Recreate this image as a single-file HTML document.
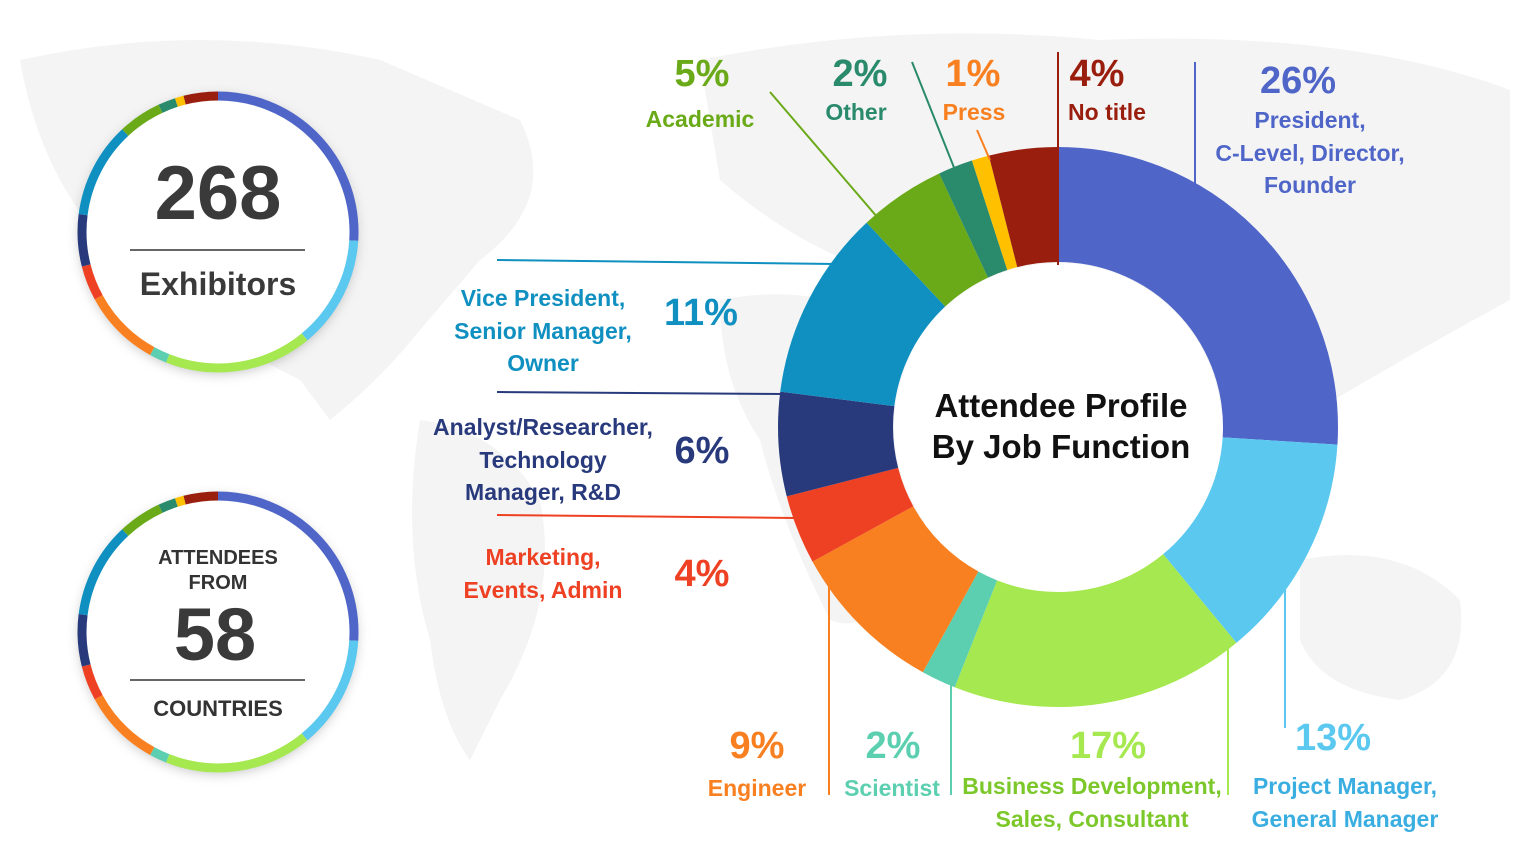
<!DOCTYPE html>
<html><head><meta charset="utf-8"><style>
html,body{margin:0;padding:0;background:#fff;}
svg{display:block;font-family:"Liberation Sans",sans-serif;font-weight:bold;}
</style></head><body>
<svg width="1515" height="844" viewBox="0 0 1515 844" xmlns="http://www.w3.org/2000/svg">
<defs>
<filter id="sh" x="-20%" y="-20%" width="140%" height="140%"><feDropShadow dx="0" dy="3" stdDeviation="6" flood-color="#000" flood-opacity="0.25"/></filter>
</defs>
<rect width="1515" height="844" fill="#fff"/>
<g fill="#f4f4f4">
<path d="M20 60 Q200 20 380 60 L520 120 Q560 200 480 260 L420 330 Q380 380 330 420 L300 380 Q200 330 120 260 Q40 180 20 60Z"/>
<path d="M420 420 Q500 430 540 500 Q560 600 500 700 L470 760 Q440 720 430 640 Q400 540 420 420Z"/>
<path d="M700 60 Q900 20 1100 40 Q1350 30 1510 90 L1510 300 Q1400 360 1300 420 Q1250 460 1230 420 Q1150 380 1080 330 Q980 300 900 280 Q800 250 720 180 Z"/>
<path d="M720 300 Q820 280 900 330 Q950 430 920 540 Q880 640 830 620 Q780 520 760 440 Q720 380 720 300Z"/>
<path d="M1300 560 Q1400 540 1460 600 Q1470 680 1400 700 Q1320 690 1300 640Z"/>
</g>
<g transform="translate(1058,427) rotate(-90)" fill="none" stroke-width="115">
<circle r="222.5" stroke="#4F66C8" stroke-dasharray="363.5 1398" stroke-dashoffset="0"/>
<circle r="222.5" stroke="#5BC8F0" stroke-dasharray="181.7 1398" stroke-dashoffset="-363.5"/>
<circle r="222.5" stroke="#A6E84F" stroke-dasharray="237.7 1398" stroke-dashoffset="-545.2"/>
<circle r="222.5" stroke="#5BCFB0" stroke-dasharray="28 1398" stroke-dashoffset="-782.9"/>
<circle r="222.5" stroke="#F98020" stroke-dasharray="125.8 1398" stroke-dashoffset="-810.9"/>
<circle r="222.5" stroke="#EE4022" stroke-dasharray="55.9 1398" stroke-dashoffset="-936.7"/>
<circle r="222.5" stroke="#283A7C" stroke-dasharray="83.9 1398" stroke-dashoffset="-992.6"/>
<circle r="222.5" stroke="#1090C0" stroke-dasharray="153.8 1398" stroke-dashoffset="-1076.5"/>
<circle r="222.5" stroke="#6AAA18" stroke-dasharray="69.9 1398" stroke-dashoffset="-1230.3"/>
<circle r="222.5" stroke="#2A8A6C" stroke-dasharray="28 1398" stroke-dashoffset="-1300.2"/>
<circle r="222.5" stroke="#FFC000" stroke-dasharray="14 1398" stroke-dashoffset="-1328.2"/>
<circle r="222.5" stroke="#9A1E0E" stroke-dasharray="56 1398" stroke-dashoffset="-1342.2"/>
</g>
<circle cx="1058" cy="427" r="164" fill="#fff"/>
<text x="1061" y="417" text-anchor="middle" font-size="33" fill="#111">Attendee Profile</text>
<text x="1061" y="458" text-anchor="middle" font-size="33" fill="#111">By Job Function</text>

<g stroke-width="2" fill="none">
<line x1="1195" y1="62" x2="1195" y2="185" stroke="#4F66C8"/>
<line x1="1058" y1="52" x2="1058" y2="265" stroke="#9A1E0E"/>
<line x1="977" y1="130" x2="990" y2="160" stroke="#F98020"/>
<line x1="912" y1="62" x2="955" y2="170" stroke="#2A8A6C"/>
<line x1="770" y1="92" x2="878" y2="218" stroke="#6AAA18"/>
<line x1="497" y1="260" x2="835" y2="264" stroke="#1090C0"/>
<line x1="497" y1="392" x2="785" y2="394" stroke="#283A7C"/>
<line x1="497" y1="515" x2="795" y2="518" stroke="#EE4022"/>
<line x1="829" y1="585" x2="829" y2="795" stroke="#F98020"/>
<line x1="951" y1="660" x2="951" y2="795" stroke="#5BCFB0"/>
<line x1="1228" y1="645" x2="1228" y2="795" stroke="#A6E84F"/>
<line x1="1285" y1="590" x2="1285" y2="728" stroke="#5BC8F0"/>
</g>

<g text-anchor="middle">
<text x="1298" y="93" font-size="38" fill="#4F66C8">26%</text>
<text x="1310" y="128" font-size="23" fill="#4F66C8">President,</text>
<text x="1310" y="161" font-size="23" fill="#4F66C8">C-Level, Director,</text>
<text x="1310" y="193" font-size="23" fill="#4F66C8">Founder</text>
<text x="1097" y="86" font-size="38" fill="#9A1E0E">4%</text>
<text x="1107" y="120" font-size="23" fill="#9A1E0E">No title</text>
<text x="973" y="86" font-size="38" fill="#F98020">1%</text>
<text x="974" y="120" font-size="23" fill="#F98020">Press</text>
<text x="860" y="86" font-size="38" fill="#2A8A6C">2%</text>
<text x="856" y="120" font-size="23" fill="#2A8A6C">Other</text>
<text x="702" y="86" font-size="38" fill="#6AAA18">5%</text>
<text x="700" y="127" font-size="23" fill="#6AAA18">Academic</text>
<text x="543" y="306" font-size="23" fill="#1090C0">Vice President,</text>
<text x="543" y="339" font-size="23" fill="#1090C0">Senior Manager,</text>
<text x="543" y="371" font-size="23" fill="#1090C0">Owner</text>
<text x="701" y="325" font-size="38" fill="#1090C0">11%</text>
<text x="543" y="435" font-size="23" fill="#283A7C">Analyst/Researcher,</text>
<text x="543" y="468" font-size="23" fill="#283A7C">Technology</text>
<text x="543" y="500" font-size="23" fill="#283A7C">Manager, R&amp;D</text>
<text x="702" y="463" font-size="38" fill="#283A7C">6%</text>
<text x="543" y="565" font-size="23" fill="#EE4022">Marketing,</text>
<text x="543" y="598" font-size="23" fill="#EE4022">Events, Admin</text>
<text x="702" y="586" font-size="38" fill="#EE4022">4%</text>
<text x="757" y="758" font-size="38" fill="#F98020">9%</text>
<text x="757" y="796" font-size="23" fill="#F98020">Engineer</text>
<text x="893" y="758" font-size="38" fill="#5BCFB0">2%</text>
<text x="892" y="796" font-size="23" fill="#5BCFB0">Scientist</text>
<text x="1108" y="758" font-size="38" fill="#A6E84F">17%</text>
<text x="1092" y="794" font-size="23" fill="#7CC82A">Business Development,</text>
<text x="1092" y="827" font-size="23" fill="#7CC82A">Sales, Consultant</text>
<text x="1333" y="750" font-size="38" fill="#5BC8F0">13%</text>
<text x="1345" y="794" font-size="23" fill="#3AAEE0">Project Manager,</text>
<text x="1345" y="827" font-size="23" fill="#3AAEE0">General Manager</text>
</g>

<g id="r1">
<circle cx="218" cy="232" r="138" fill="#fff" filter="url(#sh)"/>
<g transform="translate(218,232) rotate(-90)" fill="none" stroke-width="9">
<circle r="136" stroke="#4F66C8" stroke-dasharray="222.2 855" stroke-dashoffset="0"/>
<circle r="136" stroke="#5BC8F0" stroke-dasharray="111.1 855" stroke-dashoffset="-222.2"/>
<circle r="136" stroke="#A6E84F" stroke-dasharray="145.3 855" stroke-dashoffset="-333.3"/>
<circle r="136" stroke="#5BCFB0" stroke-dasharray="17.1 855" stroke-dashoffset="-478.6"/>
<circle r="136" stroke="#F98020" stroke-dasharray="76.9 855" stroke-dashoffset="-495.7"/>
<circle r="136" stroke="#EE4022" stroke-dasharray="34.2 855" stroke-dashoffset="-572.6"/>
<circle r="136" stroke="#283A7C" stroke-dasharray="51.3 855" stroke-dashoffset="-606.8"/>
<circle r="136" stroke="#1090C0" stroke-dasharray="94 855" stroke-dashoffset="-658.1"/>
<circle r="136" stroke="#6AAA18" stroke-dasharray="42.7 855" stroke-dashoffset="-752.1"/>
<circle r="136" stroke="#2A8A6C" stroke-dasharray="17.1 855" stroke-dashoffset="-794.8"/>
<circle r="136" stroke="#FFC000" stroke-dasharray="8.5 855" stroke-dashoffset="-811.9"/>
<circle r="136" stroke="#9A1E0E" stroke-dasharray="34.6 855" stroke-dashoffset="-820.4"/>
</g>
</g>
<use href="#r1" transform="translate(0,400)"/>
<text x="218" y="219" text-anchor="middle" font-size="76" fill="#3a3a3a">268</text>
<line x1="130" y1="250" x2="305" y2="250" stroke="#333" stroke-width="1.5"/>
<text x="218" y="295" text-anchor="middle" font-size="32" fill="#3a3a3a">Exhibitors</text>
<text x="218" y="564" text-anchor="middle" font-size="20" fill="#333">ATTENDEES</text>
<text x="218" y="589" text-anchor="middle" font-size="20" fill="#333">FROM</text>
<text x="215" y="660" text-anchor="middle" font-size="74" fill="#3a3a3a">58</text>
<line x1="130" y1="680" x2="305" y2="680" stroke="#333" stroke-width="1.5"/>
<text x="218" y="716" text-anchor="middle" font-size="22" fill="#333">COUNTRIES</text>
</svg>
</body></html>
